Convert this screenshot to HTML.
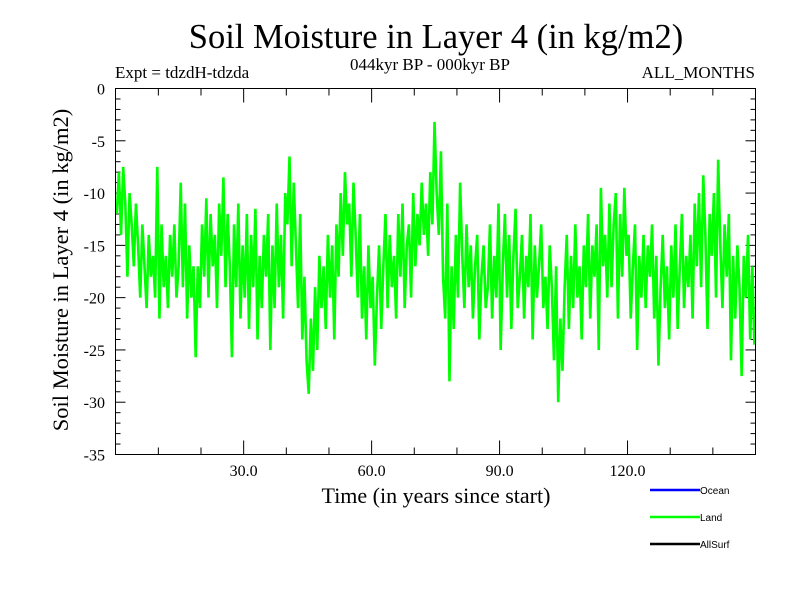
<!DOCTYPE html>
<html><head><meta charset="utf-8"><style>
body{margin:0;background:#fff}
svg{display:block}
text{font-family:"Liberation Serif",serif;fill:#000}
</style></head><body>
<svg id="chart" width="800" height="600" viewBox="0 0 800 600">
<text x="436" y="48" font-size="34.5" text-anchor="middle">Soil Moisture in Layer 4 (in kg/m2)</text>
<text x="115" y="78" font-size="17">Expt = tdzdH-tdzda</text>
<text x="430" y="70" font-size="17" text-anchor="middle">044kyr BP - 000kyr BP</text>
<text x="755" y="78" font-size="17" text-anchor="end">ALL_MONTHS</text>
<g id="ticks"></g>
<g id="series"></g>
<rect x="115.5" y="88.5" width="640" height="366" fill="none" stroke="#000" stroke-width="1"/>
<text x="436" y="503" font-size="22" text-anchor="middle">Time (in years since start)</text>
<text x="0" y="0" font-size="22.5" text-anchor="middle" transform="translate(68,270) rotate(-90)">Soil Moisture in Layer 4 (in kg/m2)</text>
<g>
<line x1="650" y1="490" x2="700" y2="490" stroke="#0000ff" stroke-width="2.5"/>
<text x="700" y="494" font-size="10" style="font-family:'Liberation Sans',sans-serif">Ocean</text>
<line x1="650" y1="517" x2="700" y2="517" stroke="#00ff00" stroke-width="2.5"/>
<text x="700" y="521" font-size="10" style="font-family:'Liberation Sans',sans-serif">Land</text>
<line x1="650" y1="544" x2="700" y2="544" stroke="#000" stroke-width="2.5"/>
<text x="700" y="548" font-size="10" style="font-family:'Liberation Sans',sans-serif">AllSurf</text>
</g>
</svg>
<script>
const xTickValues = [30, 60, 90, 120];
const xTickLabels = ["30.0", "60.0", "90.0", "120.0"];
const yTickValues = [0, -5, -10, -15, -20, -25, -30, -35];
const yTickLabels = ["0", "-5", "-10", "-15", "-20", "-25", "-30", "-35"];
const xStart = 0.25, xStep = 0.5;
const landValues = [
-12,-8,-14,-7.5,-11,-18,-10,-13,-17,-11,
-15,-20,-13,-17,-21,-14,-18,-16,-20,-7.5,
-22,-13,-19,-16,-21,-14,-18,-13,-20,-17,
-9,-19,-11,-22,-15,-20,-17,-25.7,-17,-21,
-13,-18,-10.5,-20,-12,-17,-14,-21,-11,-16,
-8.5,-19,-12,-17,-25.7,-13,-19,-11,-22,-15,
-20,-12,-23,-14,-19,-11.5,-24,-16,-21,-14,
-18,-12,-25,-15,-21,-11,-19,-14,-22,-10,
-13,-6.5,-17,-9,-15,-21,-12,-24,-18,-26,
-29.2,-22,-27,-19,-25,-16,-21,-17,-23,-14,
-20,-15,-24,-13,-18,-10,-16,-8,-13,-11,
-18,-9,-14,-20,-12,-22,-17,-24,-15,-21,
-18,-26.5,-20,-15,-23,-17,-12,-21,-14,-19,
-16,-22,-12,-18,-11,-21,-15,-13,-20,-10,
-17,-12,-15,-9,-14,-11,-16,-8,-13,-3.2,
-10,-14,-6,-18,-22,-11,-28,-17,-23,-14,
-20,-9,-16,-21,-13,-19,-15,-22,-17,-14,
-24,-18,-15,-21,-19,-13,-22,-16,-20,-11,
-25,-17,-12,-20,-14,-23,-16,-11.5,-21,-18,
-14,-22,-16,-19,-12,-24,-15,-20,-17,-13,
-21,-18,-23,-15,-19,-26,-17,-30,-22,-27,
-19,-14,-23,-16,-21,-13,-20,-17,-24,-15,
-19,-12,-22,-15,-18,-13,-25,-9.5,-17,-14,
-20,-11,-19,-13,-10,-22,-12,-18,-9.5,-16,
-14,-22,-17,-13,-25,-16,-20,-14,-21,-15,
-18,-13,-22,-16,-26.5,-19,-14,-21,-17,-24,
-15,-20,-13,-23,-17,-12,-21,-16,-19,-14,
-22,-11,-17,-10,-19,-8.3,-14,-23,-12,-16,
-10,-20,-6.8,-15,-21,-13,-18,-12,-26,-16,
-22,-15,-19,-27.5,-16,-20,-14,-24,-17,-24.5
];
const X0 = 115.7, X1 = 755.5, Y0 = 88.5, Y1 = 454.5;
const xMin = 0, xMax = 150, yMin = -35, yMax = 0;
function xs(v){ return X0 + (v - xMin) / (xMax - xMin) * (X1 - X0); }
function ys(v){ return Y1 - (v - yMin) / (yMax - yMin) * (Y1 - Y0); }
const NS = "http://www.w3.org/2000/svg";
const ticks = document.getElementById('ticks');
function mk(tag, attrs, parent){ const e = document.createElementNS(NS, tag); for (const k in attrs) e.setAttribute(k, attrs[k]); parent.appendChild(e); return e; }
for (let v = yMin; v <= yMax; v += 1) {
  const y = ys(v), len = (v % 5 === 0) ? 10 : 5;
  const a = mk('line', {x1: 115.5, x2: 115.5 + len, y1: y, y2: y, stroke: '#000'}, ticks);
  
  
  const b = mk('line', {x1: 755.5, x2: 755.5 - len, y1: y, y2: y, stroke: '#000'}, ticks);
  
  
}
yTickValues.forEach((v, i) => {
  const t = mk('text', {x: 105, y: ys(v) + 6, 'font-size': 16, 'text-anchor': 'end'}, ticks);
  t.textContent = yTickLabels[i];
  
  
});
for (let v = 10; v < xMax; v += 10) {
  const x = xs(v), len = (v % 30 === 0) ? 14 : 7;
  const a = mk('line', {x1: x, x2: x, y1: 454.5, y2: 454.5 - len, stroke: '#000'}, ticks);
  
  
  const b = mk('line', {x1: x, x2: x, y1: 88.5, y2: 88.5 + len, stroke: '#000'}, ticks);
  
  
}
xTickValues.forEach((v, i) => {
  const t = mk('text', {x: xs(v), y: 476, 'font-size': 16, 'text-anchor': 'middle'}, ticks);
  t.textContent = xTickLabels[i];
  
  
});
const pts = landValues.map((v, i) => xs(xStart + i * xStep).toFixed(2) + ',' + ys(v).toFixed(2)).join(' ');
const line = mk('polyline', {points: pts, fill: 'none', stroke: '#00ff00', 'stroke-width': 2.6, 'stroke-linejoin': 'miter'}, document.getElementById('series'));


</script>
</body></html>
